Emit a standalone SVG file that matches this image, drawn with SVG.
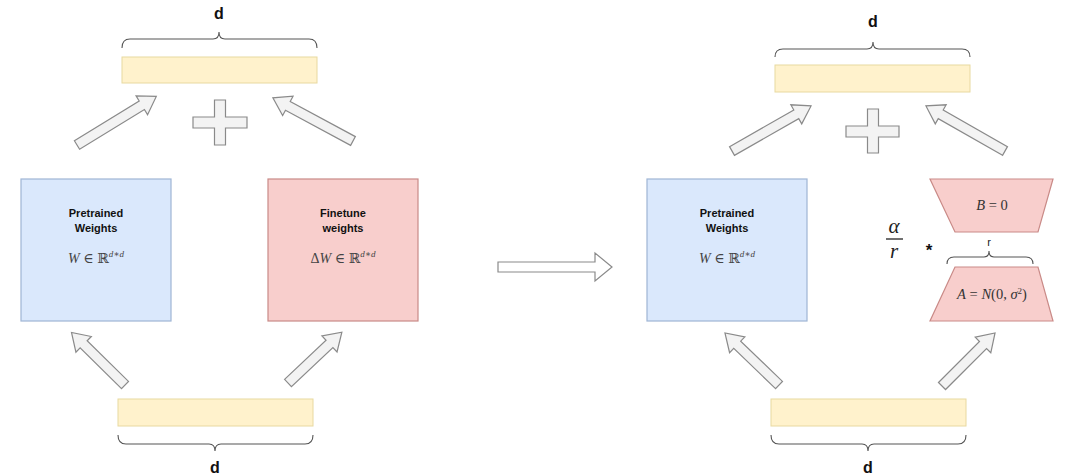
<svg xmlns="http://www.w3.org/2000/svg" width="1080" height="476" viewBox="0 0 1080 476">
<style>
.bar{fill:#fff2cc;stroke:#e8d9a0;stroke-width:1}
.blue{fill:#dae8fc;stroke:#9fb5d4;stroke-width:1.2}
.red{fill:#f8cecc;stroke:#c98a87;stroke-width:1.2}
.brace{fill:none;stroke:#555;stroke-width:1.1}
.barrow{fill:#f3f3f3;stroke:#8a8a8a;stroke-width:1.2;stroke-linejoin:miter}
.lbl{font-family:"Liberation Sans",Arial,sans-serif;font-weight:bold;font-size:11px;fill:#111;text-anchor:middle}
.dl{font-family:"Liberation Sans",Arial,sans-serif;font-weight:bold;font-size:16px;fill:#111;text-anchor:middle}
.math{font-family:"Liberation Serif","DejaVu Serif",serif;font-size:14px;fill:#444;text-anchor:middle}
.msm{font-family:"Liberation Serif","DejaVu Serif",serif;font-size:14.5px;fill:#333;text-anchor:middle}
.frac{font-family:"Liberation Serif","DejaVu Serif",serif;font-size:21px;font-style:italic;fill:#222;text-anchor:middle}
.sm{font-family:"Liberation Sans",Arial,sans-serif;font-size:11px;fill:#222;text-anchor:middle}
.star{font-family:"Liberation Sans",Arial,sans-serif;font-size:17px;font-weight:bold;fill:#111;text-anchor:middle}
</style>
<rect width="1080" height="476" fill="#fff"/>

<g id="left-top-bar">
<path class="brace" d="M122,48 Q122,39 130,39 L213,39 Q219,39 219,32 Q219,39 225,39 L309,39 Q317,39 317,48"/>
<text class="dl" x="219" y="19">d</text>
<rect class="bar" x="122" y="57" width="195" height="26"/>
</g>
<g id="left-plus">
<path class="barrow" d="M214.5,100 L225.5,100 L225.5,117 L247,117 L247,128 L225.5,128 L225.5,145 L214.5,145 L214.5,128 L193,128 L193,117 L214.5,117 Z"/>
</g>
<g id="left-pretrained">
<rect class="blue" x="21" y="179" width="150" height="142"/>
<text class="lbl" x="96" y="217">Pretrained</text>
<text class="lbl" x="96" y="232">Weights</text>
<text class="math" x="96" y="263"><tspan font-style="italic">W</tspan> ∈ ℝ<tspan style="font-size:9px" dy="-6" font-style="italic">d∗d</tspan></text>
</g>
<g id="left-finetune">
<rect class="red" x="268" y="179" width="150" height="142"/>
<text class="lbl" x="343" y="217">Finetune</text>
<text class="lbl" x="343" y="232">weights</text>
<text class="math" x="343" y="263">Δ<tspan font-style="italic">W</tspan> ∈ ℝ<tspan style="font-size:9px" dy="-6" font-style="italic">d∗d</tspan></text>
</g>
<g id="left-bottom-bar">
<rect class="bar" x="118" y="399" width="195" height="27"/>
<path class="brace" d="M118,435 Q118,444 126,444 L209,444 Q215,444 215,451 Q215,444 221,444 L305,444 Q313,444 313,435"/>
<text class="dl" x="215" y="473">d</text>
</g>

<g id="right-top-bar">
<path class="brace" d="M775,57 Q775,49 783,49 L867,49 Q873,49 873,42 Q873,49 879,49 L962,49 Q970,49 970,57"/>
<text class="dl" x="873" y="27">d</text>
<rect class="bar" x="775" y="65" width="195" height="27"/>
</g>
<g id="right-plus">
<path class="barrow" d="M867.5,109 L878.5,109 L878.5,126 L899,126 L899,137 L878.5,137 L878.5,153 L867.5,153 L867.5,137 L846,137 L846,126 L867.5,126 Z"/>
</g>
<g id="right-pretrained">
<rect class="blue" x="647" y="179" width="160" height="142"/>
<text class="lbl" x="727" y="217">Pretrained</text>
<text class="lbl" x="727" y="232">Weights</text>
<text class="math" x="727" y="263"><tspan font-style="italic">W</tspan> ∈ ℝ<tspan style="font-size:9px" dy="-6" font-style="italic">d∗d</tspan></text>
</g>
<g id="lora-B">
<path class="red" d="M930,179 L1053,179 L1038,232 L955,232 Z"/>
<text class="msm" x="992" y="210"><tspan font-style="italic">B</tspan> = 0</text>
</g>
<g id="lora-r">
<text class="sm" x="989" y="246">r</text>
<path class="brace" d="M947,264 Q947,257 954,257 L984,257 Q989,257 989,251 Q989,257 994,257 L1026,257 Q1033,257 1033,264"/>
</g>
<g id="lora-A">
<path class="red" d="M955,267 L1038,267 L1053,321 L930,321 Z"/>
<text class="msm" x="992" y="299"><tspan font-style="italic">A</tspan> = <tspan font-style="italic">N</tspan>(0, <tspan font-style="italic">σ</tspan><tspan style="font-size:9px" dy="-5">2</tspan><tspan dy="5">)</tspan></text>
</g>
<g id="scale">
<text class="frac" x="894" y="233">α</text>
<line x1="886" y1="239" x2="903" y2="239" stroke="#222" stroke-width="1.3"/>
<text class="frac" x="894" y="258">r</text>
<text class="star" x="929" y="256">*</text>
</g>
<g id="right-bottom-bar">
<rect class="bar" x="771" y="399" width="195" height="27"/>
<path class="brace" d="M771,435 Q771,444 779,444 L862,444 Q868,444 868,451 Q868,444 874,444 L958,444 Q966,444 966,435"/>
<text class="dl" x="868" y="473">d</text>
</g>

<g id="connectors">
<path class="barrow" transform="translate(77,145) rotate(-31.5)" d="M0,-5 L76,-5 L76,-11 L93,0 L76,11 L76,5 L0,5 Z"/>
<path class="barrow" transform="translate(353,141) rotate(-151.7)" d="M0,-5 L74,-5 L74,-11 L91,0 L74,11 L74,5 L0,5 Z"/>
<path class="barrow" transform="translate(125,385) rotate(-135.5)" d="M0,-5 L58,-5 L58,-11 L75,0 L58,11 L58,5 L0,5 Z"/>
<path class="barrow" transform="translate(288,383) rotate(-43.3)" d="M0,-5 L57,-5 L57,-11 L74,0 L57,11 L57,5 L0,5 Z"/>
<path class="barrow" transform="translate(732,151) rotate(-29.7)" d="M0,-5 L74,-5 L74,-11 L91,0 L74,11 L74,5 L0,5 Z"/>
<path class="barrow" transform="translate(1005,151) rotate(-150.3)" d="M0,-5 L74,-5 L74,-11 L91,0 L74,11 L74,5 L0,5 Z"/>
<path class="barrow" transform="translate(779,385) rotate(-136.1)" d="M0,-5 L58,-5 L58,-11 L75,0 L58,11 L58,5 L0,5 Z"/>
<path class="barrow" transform="translate(942,386) rotate(-45)" d="M0,-5 L58,-5 L58,-11 L75,0 L58,11 L58,5 L0,5 Z"/>
<path class="barrow" style="fill:#fff" d="M498,262 L595,262 L595,253 L612,267 L595,281 L595,272 L498,272 Z"/>
</g>
</svg>
